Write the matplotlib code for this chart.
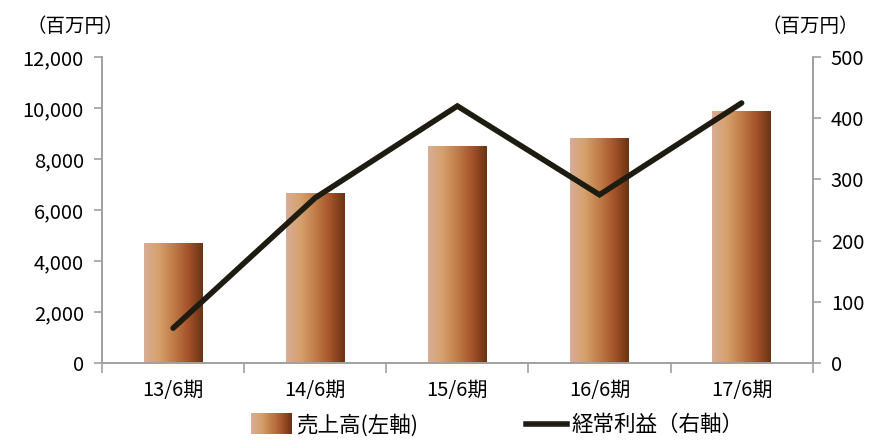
import numpy as np
import matplotlib
matplotlib.use("Agg")
import matplotlib.pyplot as plt
from matplotlib.colors import LinearSegmentedColormap
from matplotlib.patches import Rectangle
from matplotlib.lines import Line2D
from matplotlib.legend_handler import HandlerBase

plt.rcParams["font.family"] = ["Noto Sans CJK JP", "DejaVu Sans"]

periods = ["13/6期", "14/6期", "15/6期", "16/6期", "17/6期"]
sales = [4700, 6630, 8510, 8820, 9880]          # 売上高 (百万円)
ordinary_profit = [57, 270, 420, 275, 425]      # 経常利益 (百万円)

AXIS_GREY = "#a0a0a0"
LINE_COL = "#1e1b10"
grad = LinearSegmentedColormap.from_list(
    "copper_bar", ["#d8ae98", "#d6a06c", "#c07c48", "#a5532a", "#6a3313"])


class GradientHandler(HandlerBase):
    def create_artists(self, legend, orig, xd, yd, w, h, fontsize, trans):
        n = 40
        out = []
        for i in range(n):
            r = Rectangle((xd + w * i / n, yd - h * 0.2), w / n * 1.05, h * 1.4,
                          facecolor=grad(i / (n - 1)), edgecolor="none", transform=trans)
            out.append(r)
        return out


fig = plt.figure(figsize=(8.72, 4.46), dpi=100)
ax = fig.add_axes([0.117, 0.186, 0.815, 0.686])
ax2 = ax.twinx()

x = np.arange(len(periods))
bw = 0.41
bars = ax.bar(x, sales, bw, color="none", edgecolor="none")
g = np.linspace(0, 1, 256).reshape(1, -1)
for b in bars:
    ax.imshow(g, cmap=grad, aspect="auto", interpolation="bilinear",
              extent=(b.get_x(), b.get_x() + b.get_width(), 0, b.get_height()), zorder=2)

ax2.plot(x, ordinary_profit, color=LINE_COL, lw=4, solid_capstyle="round",
         solid_joinstyle="miter", zorder=3)

ax.set_xlim(-0.5, len(periods) - 0.5)
ax.set_ylim(0, 12000)
ax2.set_ylim(0, 500)
ax.set_yticks(np.arange(0, 12001, 2000))
ax.set_yticklabels([f"{v:,}" for v in range(0, 12001, 2000)])
ax2.set_yticks(np.arange(0, 501, 100))

ax.set_xticks(np.arange(-0.5, len(periods), 1.0))
ax.set_xticklabels([])
ax.set_xticks(x, minor=True)
ax.set_xticklabels(periods, minor=True)
ax.tick_params(axis="x", which="minor", length=0, pad=12, labelsize=14.5)
ax.tick_params(axis="x", which="major", length=7, color=AXIS_GREY, width=1.2)
ax.tick_params(axis="y", length=6, color=AXIS_GREY, width=1.2, labelsize=14.5, pad=7)
ax2.tick_params(axis="y", length=6, color=AXIS_GREY, width=1.2, labelsize=14.5, pad=7)

for a in (ax, ax2):
    a.spines["top"].set_visible(False)
    for s in ("left", "right", "bottom"):
        a.spines[s].set_color(AXIS_GREY)
        a.spines[s].set_linewidth(1.2)

fig.text(0.03, 0.94, "（百万円）", fontsize=14, ha="left", va="center")
fig.text(0.985, 0.94, "（百万円）", fontsize=14, ha="right", va="center")

h_bar = Rectangle((0, 0), 1, 1)
h_line = Line2D([0], [0], color=LINE_COL, lw=4)
fig.legend([h_bar, h_line], ["売上高(左軸)", "経常利益（右軸）"],
           handler_map={Rectangle: GradientHandler()},
           loc="lower center", bbox_to_anchor=(0.57, -0.012), ncol=2, frameon=False,
           fontsize=15.5, handlelength=1.9, handletextpad=0.2, columnspacing=5.0,
           borderpad=0.2)

fig.savefig("out.png", dpi=100, facecolor="white")
